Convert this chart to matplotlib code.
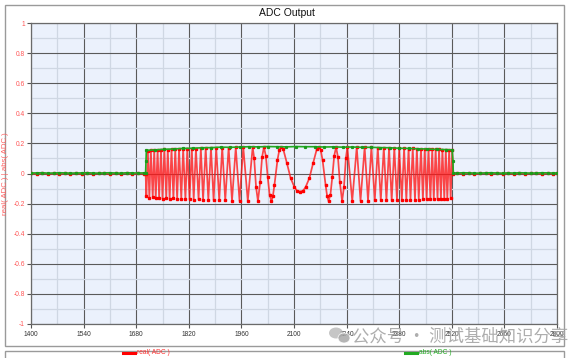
import numpy as np
import matplotlib
matplotlib.use('Agg')
import matplotlib.pyplot as plt
from matplotlib.patches import Rectangle, Ellipse
from matplotlib.lines import Line2D

plt.rcParams['font.family'] = ['Liberation Sans', 'DejaVu Sans']

# ---- data ----
x_ticks = [1400, 1540, 1680, 1820, 1960, 2100, 2240, 2380, 2520, 2660, 2800]
y_ticks = [-1, -0.8, -0.6, -0.4, -0.2, 0, 0.2, 0.4, 0.6, 0.8, 1]
y_tick_labels = ['-1', '-0.8', '-0.6', '-0.4', '-0.2', '0', '0.2', '0.4', '0.6', '0.8', '1']

# quiet parts before / after the burst
flat_left_x = [1400, 1415, 1430, 1445, 1460, 1475, 1490, 1505, 1520, 1535, 1550,
               1565, 1580, 1595, 1610, 1625, 1640, 1655, 1670, 1685, 1700, 1705]
flat_left_real = [0.002, -0.003, 0.004, -0.002, 0.001, -0.004, 0.003, -0.001, 0.002, -0.003, 0.004,
                  -0.002, 0.001, 0.003, -0.004, 0.002, -0.001, 0.004, -0.003, 0.001, -0.002, 0.000]
flat_left_abs = [0.003, 0.004, 0.005, 0.002, 0.003, 0.005, 0.004, 0.002, 0.003, 0.004, 0.005,
                 0.003, 0.002, 0.004, 0.005, 0.003, 0.002, 0.005, 0.004, 0.003, 0.004, 0.003]
flat_right_x = [2524, 2535, 2550, 2565, 2580, 2595, 2610, 2625, 2640, 2655, 2670,
                2685, 2700, 2715, 2730, 2745, 2760, 2775, 2790, 2800]
flat_right_real = [0.000, 0.003, -0.002, 0.004, -0.003, 0.001, 0.002, -0.004, 0.003, -0.001, 0.002,
                   -0.003, 0.004, -0.002, 0.001, 0.003, -0.004, 0.002, -0.001, 0.002]
flat_right_abs = [0.004, 0.003, 0.005, 0.004, 0.003, 0.002, 0.004, 0.005, 0.003, 0.002, 0.004,
                  0.003, 0.005, 0.004, 0.002, 0.003, 0.005, 0.004, 0.003, 0.004]

# chirp burst: peaks and troughs of real(ADC)
peak_x = [1711, 1719, 1728, 1737, 1746, 1755, 1764, 1774, 1784, 1794, 1805, 1816, 1828,
          1839, 1852, 1865, 1879, 1893, 1909, 1926, 1945, 1965, 1990, 2020, 2066,
          2166, 2212, 2242, 2267, 2288, 2306, 2323, 2339, 2353, 2367, 2380, 2393, 2405,
          2416, 2427, 2438, 2448, 2458, 2468, 2477, 2486, 2495, 2504, 2513, 2521]
peak_y = [0.152, 0.155, 0.157, 0.156, 0.159, 0.160, 0.158, 0.162, 0.161, 0.164, 0.163, 0.165, 0.166,
          0.164, 0.168, 0.167, 0.170, 0.169, 0.171, 0.172, 0.173, 0.174, 0.175, 0.176, 0.177,
          0.177, 0.176, 0.175, 0.175, 0.174, 0.173, 0.172, 0.172, 0.170, 0.169, 0.168, 0.167, 0.166,
          0.167, 0.165, 0.164, 0.163, 0.164, 0.162, 0.161, 0.160, 0.159, 0.158, 0.157, 0.155]
trough_x = [1707, 1715, 1724, 1732, 1741, 1750, 1760, 1769, 1779, 1789, 1800, 1811, 1822,
            1833, 1846, 1858, 1872, 1886, 1901, 1917, 1935, 1955, 1977, 2004, 2040,
            2116,
            2192, 2228, 2255, 2277, 2297, 2315, 2331, 2346, 2360, 2374, 2387, 2399,
            2410, 2422, 2432, 2443, 2453, 2463, 2472, 2482, 2491, 2500, 2508, 2517]
trough_y = [-0.150, -0.162, -0.158, -0.165, -0.161, -0.167, -0.164, -0.169, -0.166, -0.170, -0.168, -0.172, -0.170,
            -0.173, -0.172, -0.175, -0.174, -0.176, -0.177, -0.178, -0.180, -0.181, -0.182, -0.183, -0.184,
            -0.120,
            -0.184, -0.183, -0.182, -0.181, -0.180, -0.179, -0.178, -0.178, -0.177, -0.176, -0.176, -0.175,
            -0.174, -0.174, -0.173, -0.172, -0.172, -0.171, -0.170, -0.170, -0.169, -0.168, -0.167, -0.165]
# extra samples on the slow part of the chirp (around the centre)
slope_x = [1994, 1999, 2010, 2015, 2025, 2030, 2035, 2044, 2048, 2056, 2061, 2071, 2081, 2091, 2101, 2108,
           2124, 2131, 2141, 2151, 2161, 2171, 2176, 2184, 2188, 2197, 2202, 2207, 2217, 2222, 2233, 2238]
slope_y = [0.100, -0.090, -0.057, 0.108, 0.117, -0.022, -0.140, -0.147, -0.075, 0.090, 0.157, 0.165, 0.070, -0.030, -0.090, -0.115,
           -0.115, -0.090, -0.030, 0.070, 0.165, 0.157, 0.090, -0.075, -0.147, -0.140, -0.022, 0.117, 0.108, -0.057, -0.090, 0.100]

# abs(ADC) envelope over the burst
env_x = [1706, 1707, 1730, 1755, 1780, 1805, 1830, 1855, 1880, 1905, 1930, 1955, 1980, 2005, 2030,
         2055, 2080, 2105, 2130, 2155, 2180, 2205, 2230, 2255, 2280, 2305, 2330, 2355, 2380,
         2405, 2430, 2455, 2480, 2505, 2521, 2523]
env_y = [0.080, 0.154, 0.157, 0.161, 0.163, 0.167, 0.168, 0.171, 0.172, 0.175, 0.174, 0.176, 0.178, 0.177, 0.179,
         0.178, 0.177, 0.179, 0.178, 0.178, 0.176, 0.177, 0.175, 0.176, 0.174, 0.174, 0.172, 0.171, 0.168,
         0.167, 0.164, 0.163, 0.160, 0.159, 0.157, 0.080]

# ---- assemble series ----
real_x = np.array(flat_left_x + peak_x + trough_x + slope_x + flat_right_x, dtype=float)
real_y = np.array(flat_left_real + peak_y + trough_y + slope_y + flat_right_real)
order = np.argsort(real_x, kind='stable')
real_x, real_y = real_x[order], real_y[order]

abs_x = np.array(flat_left_x + env_x + flat_right_x, dtype=float)
abs_y = np.array(flat_left_abs + env_y + flat_right_abs)
order = np.argsort(abs_x, kind='stable')
abs_x, abs_y = abs_x[order], abs_y[order]

W, H = 573, 358
fig = plt.figure(figsize=(W / 100, H / 100), dpi=100)
fig.patch.set_facecolor('white')

# outer frame + legend strip
fig.patches.append(Rectangle((5 / W, 1 - 346 / H), 559 / W, 341 / H, transform=fig.transFigure,
                             fill=False, ec='#9a9a9a', lw=1.0, zorder=0))
fig.patches.append(Rectangle((5 / W, -0.05), 559 / W, 0.05 + 1 - 351 / H, transform=fig.transFigure,
                             fill=False, ec='#9a9a9a', lw=1.0, zorder=0))

ax = fig.add_axes([31 / W, 34 / H, 526 / W, 301 / H])
ax.set_zorder(2)
ax.set_facecolor('#ebf1fc')

ax.plot(real_x, real_y, color='#ff1a1a', lw=1.25, alpha=0.8, zorder=3)
ax.plot(real_x, real_y, ls='none', marker='s', ms=1.9, mec='#ff0000', mfc='#ff0000', zorder=4)
ax.plot(abs_x, abs_y, color='#22aa22', lw=1.2, zorder=5)
ax.plot(abs_x, abs_y, ls='none', marker='s', ms=1.3, mec='#1a9a1a', mfc='#1a9a1a', zorder=5)

ax.set_xlim(1400, 2800)
ax.set_ylim(-1, 1)
ax.set_xticks(x_ticks)
ax.set_xticklabels([str(t) for t in x_ticks])
ax.set_yticks(y_ticks)
ax.set_yticklabels(y_tick_labels)
ax.set_xticks([t + 70 for t in x_ticks[:-1]], minor=True)
ax.set_yticks([t + 0.1 for t in y_ticks[:-1]], minor=True)

ax.grid(which='major', color='#5a5a5a', lw=0.8, zorder=1)
ax.grid(which='minor', color='#cfd7e3', lw=0.9, zorder=1)
ax.set_axisbelow(True)

ax.tick_params(axis='x', which='major', labelsize=4.8, labelcolor='#333333', length=3,
               color='#555555', width=0.8, pad=2)
ax.tick_params(axis='y', which='major', labelsize=4.8, labelcolor='#ff5555', length=3,
               color='#555555', width=0.8, pad=1.5)
ax.tick_params(which='minor', length=0)
for s in ax.spines.values():
    s.set_color('#6a6a6a')
    s.set_linewidth(0.9)

ax.set_ylabel('real( ADC ) | abs( ADC )', fontsize=5.6, color='#ff6060')
ax.yaxis.set_label_coords(-0.041, 0.5)

fig.text(287 / W, 1 - 13 / H, 'ADC Output', ha='center', va='center', fontsize=7.5, color='#111111')

# legend (partly cut at the bottom edge)
fig.add_artist(Line2D([123 / W, 135 / W], [1 - 353 / H] * 2, transform=fig.transFigure,
                      color='#ff0000', lw=2.2))
fig.text(137 / W, 1 - 353 / H, 'real( ADC )', fontsize=4.8, color='#ff3030', va='center')
fig.add_artist(Line2D([405 / W, 417 / W], [1 - 353 / H] * 2, transform=fig.transFigure,
                      color='#22aa22', lw=2.2))
fig.text(419 / W, 1 - 353 / H, 'abs( ADC )', fontsize=4.8, color='#22aa22', va='center')

# watermark (lies over the x tick labels, as in the reference)
fig.patches.append(Ellipse((336 / W, 1 - 333 / H), 14 / W, 11 / H, transform=fig.transFigure,
                           fc='#b8b8b8', ec='none', alpha=0.8, zorder=10))
fig.patches.append(Ellipse((344 / W, 1 - 338 / H), 12 / W, 10 / H, transform=fig.transFigure,
                           fc='#a8a8a8', ec='white', lw=0.6, alpha=0.85, zorder=11))
wm = fig.text(352 / W, 1 - 336 / H, '公众号 · 测试基础知识分享', fontsize=12.5, color='#a5a5a5',
              va='center', ha='left', family=['Noto Sans CJK SC', 'DejaVu Sans'], alpha=0.9)
wm.set_zorder(12)

fig.savefig('out.png', dpi=100)
